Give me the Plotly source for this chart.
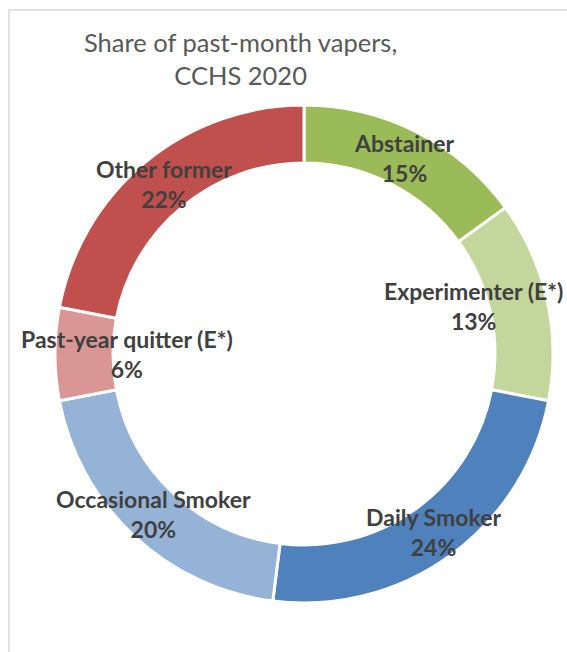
import math
import plotly.graph_objects as go

categories = ["Abstainer", "Experimenter (E*)", "Daily Smoker", "Occasional Smoker",
              "Past-year quitter (E*)", "Other former"]
shares = [15, 13, 24, 20, 6, 22]
colors = ["#9BBB59", "#C3D69B", "#4F81BD", "#95B3D7", "#D99694", "#C0504D"]
title_lines = ["Share of past-month vapers,", "CCHS 2020"]

W, H = 567, 652
cx, cy, R = 304, 354, 249
HOLE = 0.767
FONT = "Lato"
LABEL_SIZE = 23
CHAR_W = 0.45 * LABEL_SIZE

fig = go.Figure()
fig.add_trace(go.Pie(
    labels=categories, values=shares, sort=False, direction="clockwise",
    rotation=0, hole=HOLE, textinfo="none", hoverinfo="label+percent",
    marker=dict(colors=colors, line=dict(color="white", width=3)),
    domain=dict(x=[(cx - R) / W, (cx + R) / W], y=[1 - (cy + R) / H, 1 - (cy - R) / H]),
    showlegend=False,
))

total = sum(shares)
cum = 0
r_lab = R * (1 + HOLE) / 2
left_bound, right_bound = 19, 565
for cat, v in zip(categories, shares):
    mid = (cum + v / 2) / total * 2 * math.pi
    cum += v
    px = cx + r_lab * math.sin(mid)
    py = cy - r_lab * math.cos(mid)
    w = len(cat) * CHAR_W
    anchor = "center"
    if px + w / 2 > right_bound:
        px, anchor = right_bound, "right"
    elif px - w / 2 < left_bound:
        px, anchor = left_bound, "left"
    pct = round(v / total * 100)
    fig.add_annotation(
        x=px / W, y=1 - py / H, xref="paper", yref="paper",
        text=f"<b>{cat}<br>{pct}%</b>", showarrow=False,
        font=dict(family=FONT, size=LABEL_SIZE, color="#404040"),
        xanchor=anchor, yanchor="middle", align="center",
    )

fig.add_annotation(
    x=240 / W, y=1 - 58 / H, xref="paper", yref="paper",
    text="<br>".join(title_lines), showarrow=False,
    font=dict(family=FONT, size=25.5, color="#595959"),
    xanchor="center", yanchor="middle", align="center",
)

fig.add_shape(type="rect", xref="paper", yref="paper",
              x0=9 / W, x1=1.1, y0=-0.1, y1=1 - 10 / H,
              line=dict(color="#D9D9D9", width=1.5), fillcolor="rgba(0,0,0,0)")

fig.update_layout(
    width=W, height=H, margin=dict(l=0, r=0, t=0, b=0),
    paper_bgcolor="white", plot_bgcolor="white",
)

fig.write_html(
    "out.html",
    config={"displayModeBar": False},
    post_script="document.body.style.margin='0';document.body.style.overflow='hidden';",
)
